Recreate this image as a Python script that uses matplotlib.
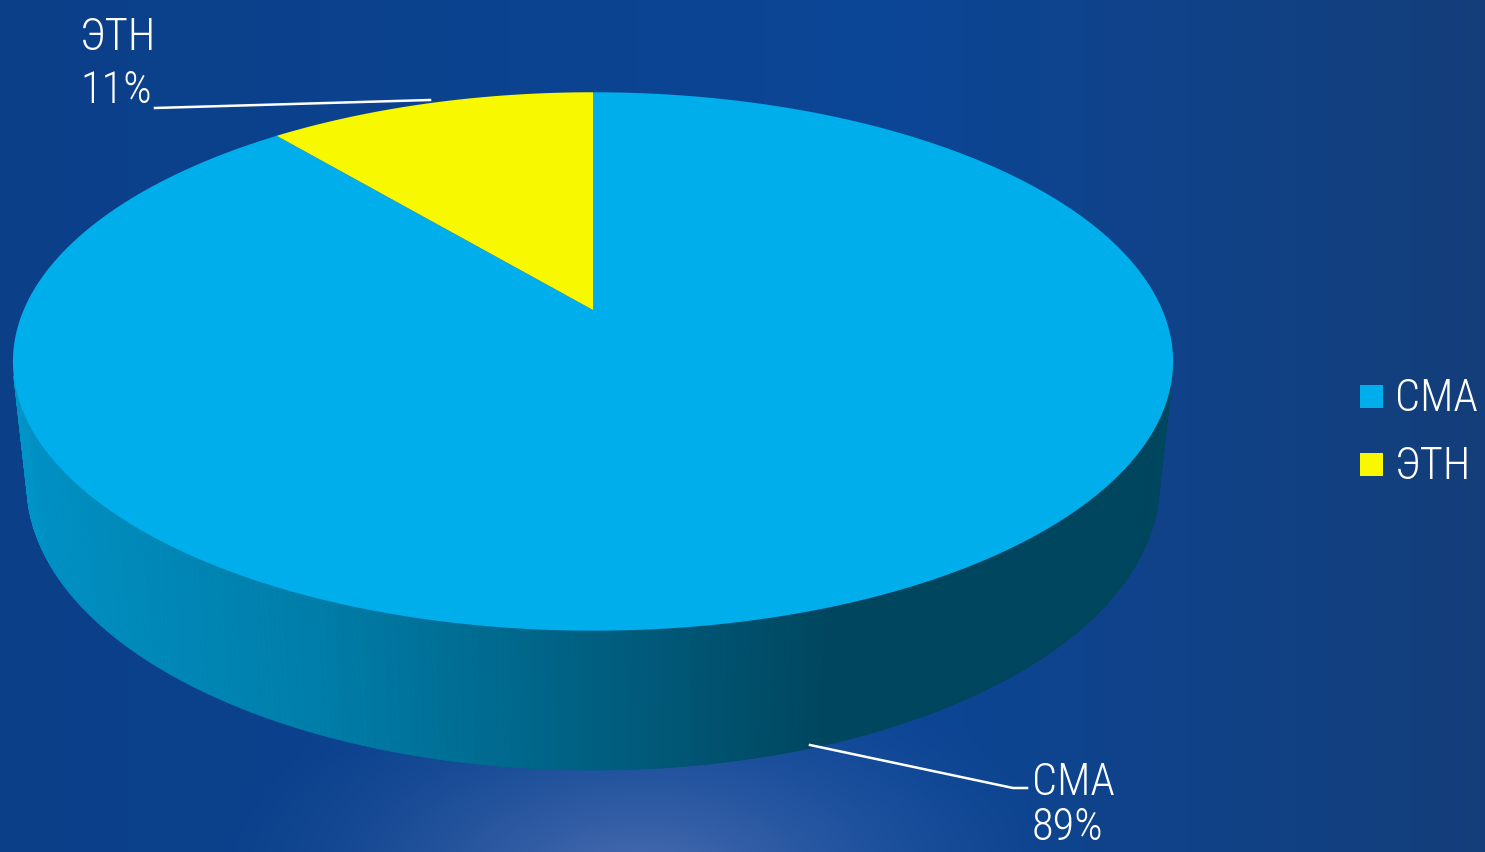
import numpy as np
import matplotlib
matplotlib.use("Agg")
import matplotlib.pyplot as plt
from matplotlib import font_manager
from matplotlib.patches import Polygon, Rectangle

# chart data
labels = ["СМА", "ЭТН"]
shares = [89, 11]
colors = ["#00AEEB", "#F8F800"]
pct_labels = ["89%", "11%"]

W, H = 1485, 852

# narrow font if one is installed, otherwise a smaller regular one
names = {f.name for f in font_manager.fontManager.ttflist}
FONT, FS = ["Liberation Sans", "DejaVu Sans"], 28
for cand in ["Liberation Sans Narrow", "Roboto Condensed", "Open Sans Condensed"]:
    if cand in names:
        FONT, FS = [cand, "Liberation Sans", "DejaVu Sans"], 32
        break
TXT = dict(color="white", fontsize=FS, family=FONT, fontweight="light", zorder=5)

fig = plt.figure(figsize=(W / 100, H / 100), dpi=100)
ax = fig.add_axes([0, 0, 1, 1])
ax.set_xlim(0, W)
ax.set_ylim(H, 0)
ax.axis("off")

# background: dark blue with a soft glow at the bottom
yy, xx = np.mgrid[0:H, 0:W]
u = xx / W
left = np.array([11, 63, 136]) / 255.0
mid = np.array([12, 70, 150]) / 255.0
right = np.array([20, 62, 122]) / 255.0
wl = np.clip(1 - u / 0.6, 0, 1)[..., None]
wr = np.clip((u - 0.6) / 0.4, 0, 1)[..., None]
bg = left * wl + right * wr + mid * (1 - wl - wr)
glow = np.array([75, 110, 178]) / 255.0
r = np.sqrt(((xx - 640) / 430.0) ** 2 + ((yy - 880) / 230.0) ** 2)
g = (np.clip(1 - r, 0, 1) ** 1.5)[..., None]
bg = bg * (1 - g) + glow * g
ax.imshow(np.clip(bg, 0, 1), extent=[0, W, H, 0], zorder=0, aspect="auto")

# simple perspective camera for the 3D disc
cx, cy = 593, 310
phi = np.radians(27.1)
s, c = np.sin(phi), np.cos(phi)
D, f, h = 4.656, 2651, 0.244


def proj(theta, z=0.0):
    X = np.cos(theta)
    Yf = -np.sin(theta)  # toward viewer
    up = z * c - Yf * s
    depth = D - Yf * c - z * s
    return cx + f * X / depth, cy - f * up / depth


# slice angles, start at 12 o'clock, clockwise
fr = np.array(shares) / sum(shares)
bounds = np.radians(90) - 2 * np.pi * np.concatenate([[0], np.cumsum(fr)])

# side wall (front part only)
n = 720
for i in range(len(shares)):
    ts = np.linspace(bounds[i], bounds[i + 1], int(n * fr[i]) + 2)
    for a, b in zip(ts[:-1], ts[1:]):
        m = 0.5 * (a + b)
        if -np.sin(m) * D * c <= 1:
            continue
        k = np.interp(np.cos(m), [-1, -0.4, 0.35, 1], [0.86, 0.72, 0.40, 0.40])
        rgb = np.array(matplotlib.colors.to_rgb(colors[i])) * k
        xa, ya = proj(a)
        xb, yb = proj(b)
        xa2, ya2 = proj(a, -h)
        xb2, yb2 = proj(b, -h)
        ax.add_patch(Polygon([(xa, ya), (xb, yb), (xb2, yb2), (xa2, ya2)],
                             closed=True, facecolor=rgb, edgecolor=rgb,
                             linewidth=0.6, zorder=2))

# top face
for i in range(len(shares)):
    ts = np.linspace(bounds[i], bounds[i + 1], 400)
    px, py = proj(ts)
    pts = [(cx, cy)] + list(zip(px, py))
    ax.add_patch(Polygon(pts, closed=True, facecolor=colors[i],
                         edgecolor="none", zorder=3))

# data labels with leader lines
ax.plot([155, 430], [108, 100], color="white", lw=1.8, zorder=4)
ax.text(80, 50, labels[1], **TXT)
ax.text(80, 103, pct_labels[1], **TXT)

ax.plot([810, 1013, 1027], [745, 788, 788], color="white", lw=1.8, zorder=4)
ax.text(1032, 795, labels[0], **TXT)
ax.text(1032, 840, pct_labels[0], **TXT)

# legend
for i, lab in enumerate(labels):
    y0 = 385 + i * 68
    ax.add_patch(Rectangle((1360, y0), 23, 23, facecolor=colors[i],
                           edgecolor="none", zorder=5))
    ax.text(1395, y0 + 26, lab, **TXT)

fig.savefig("out.png", dpi=100)
